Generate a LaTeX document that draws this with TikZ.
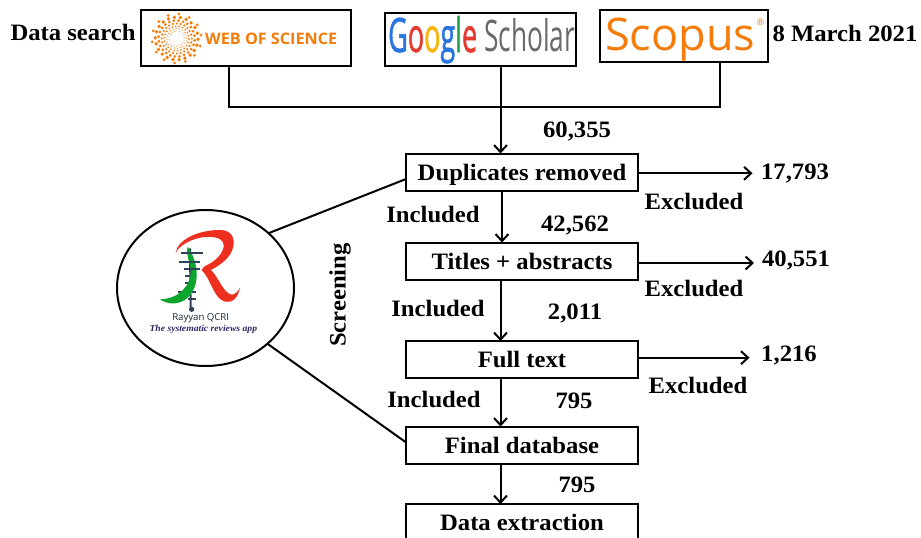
\documentclass[tikz,border=0pt]{standalone}
\usepackage{fontspec}
\usepackage{graphicx}
\usetikzlibrary{arrows.meta,shapes.geometric}
\setmainfont[FakeStretch=1.05]{Liberation Serif}
\newfontfamily\logofont{Open Sans}
\newfontfamily\gfont[FakeBold=1.5]{Open Sans}
\definecolor{wosorange}{HTML}{F57C0A}
\definecolor{gblue}{HTML}{2A75E0}
\definecolor{gred}{HTML}{E53B30}
\definecolor{gyellow}{HTML}{F6B60E}
\definecolor{ggreen}{HTML}{1E9E48}
\definecolor{ggray}{HTML}{6A6A6A}
\definecolor{rred}{HTML}{EE2E1E}
\definecolor{rgreen}{HTML}{0BA52E}
\definecolor{rbone}{HTML}{2F4258}
\definecolor{rnavy}{HTML}{2B2A66}
\tikzset{
  px/.style={x=1pt,y=-1pt},
  boxnode/.style={draw=black,line width=2pt,fill=white,minimum width=232pt,minimum height=37pt,inner sep=0pt,outer sep=0pt,
    font=\fontsize{23.5}{26}\selectfont\bfseries,text height=16pt,text depth=0pt},
  logobox/.style={draw=black,line width=2pt,fill=white,inner sep=0pt,outer sep=0pt},
  lbl/.style={font=\fontsize{23.5}{26}\selectfont\bfseries,text=black,inner sep=0pt,text height=16pt,text depth=0pt},
  wire/.style={draw=black,line width=2pt},
  arr/.style={wire,-{Straight Barb[length=7pt,width=13pt,line width=2pt]}}
}
\begin{document}
\begin{tikzpicture}[px]
\useasboundingbox (0,0) rectangle (921,538);
\clip (0,0) rectangle (921,538);
\fill[white] (0,0) rectangle (921,538);

% logo boxes
\node[logobox,minimum width=210pt,minimum height=56pt] (wos) at (245.5,38) {};
\node[logobox,minimum width=191pt,minimum height=53pt] (goo) at (480.5,39.5) {};
\node[logobox,minimum width=168pt,minimum height=52pt] (sco) at (684,36) {};

% Web of Science logo
\foreach \r/\n/\s in {7.5/18/0.45,9.8/20/0.65,12.2/22/0.95,15/24/1.2,18/24/1.5,21.3/22/1.85,24.6/14/1.5}{
  \foreach \k in {1,...,\n}{
    \fill[wosorange] (176.7,38.5) ++({\k*360/\n+\r*7}:\r) circle (\s);
  }
}
\node[anchor=base west,inner sep=0pt,text=wosorange] (wostxt) at (205,44.5)
  {\resizebox{132pt}{11.5pt}{\logofont\bfseries WEB OF SCIENCE}};

% Google Scholar logo
\node[anchor=base west,inner sep=0pt] (gootxt) at (388,52)
  {\resizebox{89pt}{36pt}{\gfont{\color{gblue}G}{\color{gred}o}{\color{gyellow}o}{\color{gblue}g}{\color{ggreen}l}{\color{gred}e}}};
\node[anchor=base west,inner sep=0pt] (schtxt) at (484,51.5)
  {\resizebox{91pt}{33pt}{\logofont\color{ggray}Scholar}};

% Scopus logo
\node[anchor=base west,inner sep=0pt,text=wosorange] (scotxt) at (605,50)
  {\resizebox{150pt}{32.5pt}{\logofont Scopus}};
\node[inner sep=0pt,text=wosorange,font=\logofont\fontsize{9}{9}\selectfont] (scoreg) at (760.5,22) {®};

% flow boxes
\node[boxnode] (dup) at (522,172) {Duplicates removed};
\node[boxnode] (tit) at (522,261) {Titles + abstracts};
\node[boxnode] (ful) at (522,359.5) {Full text};
\node[boxnode] (fin) at (522,445) {Final database};
\node[boxnode] (ext) at (522,522.5) {Data extraction};

% Rayyan circle
\node[draw=black,line width=2pt,ellipse,minimum width=177pt,minimum height=156pt,inner sep=0pt,outer sep=0pt] (ray) at (205.5,288) {};
\begin{scope}[shift={(110,210)},x=0.3333pt,y=-0.3333pt]
  \draw[rbone,line width=2pt] (240,115) -- (242,298);
  \foreach \y/\a/\b in {130/212/278,155/208/270,178/222/270,198/225/248,218/225/250,245/205/258,268/235/258}{
    \draw[rbone,line width=2pt] (\a,\y) -- (\b,\y);
  }
  \fill[rbone] (245,298) circle (2.6pt);
  \fill[rred] (197,128) .. controls (205,85) and (270,60) .. (330,60)
    .. controls (365,60) and (375,85) .. (370,110)
    .. controls (362,145) and (330,165) .. (303,180)
    .. controls (325,200) and (340,250) .. (365,254)
    .. controls (375,254) and (385,245) .. (390,232)
    .. controls (385,265) and (365,280) .. (345,275)
    .. controls (310,265) and (305,210) .. (275,180)
    .. controls (280,165) and (300,165) .. (315,150)
    .. controls (345,125) and (350,95) .. (325,85)
    .. controls (280,70) and (215,95) .. (197,128) -- cycle;
  \fill[rgreen] (233,110) .. controls (255,140) and (272,195) .. (250,240)
    .. controls (235,275) and (190,295) .. (150,268)
    .. controls (190,268) and (232,245) .. (242,195)
    .. controls (246,165) and (225,135) .. (233,110) -- cycle;
  \foreach \y/\a/\b in {130/212/278,155/208/270,178/222/270}{
    \draw[rbone,line width=2pt] (\a,\y) -- (\b,\y);
  }
  \node[inner sep=0pt,text=rbone!60!black,font=\logofont\fontsize{9.6}{10}\selectfont] (raya) at (272,325) {Rayyan QCRI};
  \node[inner sep=0pt,text=rnavy,font=\fontsize{9.2}{10}\selectfont\bfseries\itshape] (rayb) at (280,358) {The systematic reviews app};
\end{scope}

% connectors
\coordinate (wdrop) at (229,107);
\coordinate (join) at (500.5,107);
\coordinate (sdrop) at (719.5,107);
\draw[wire,line join=miter] (wdrop |- wos.south) -- (wdrop) -- (sdrop) -- (sdrop |- sco.south);
\draw[wire] (join |- goo.south) -- (join);
\draw[arr] (join) -- (join |- dup.north);
\coordinate (x1) at (502,0);
\draw[arr] (x1 |- dup.south) -- (x1 |- tit.north);
\draw[arr] (join |- tit.south) -- (join |- ful.north);
\draw[arr] (join |- ful.south) -- (join |- fin.north);
\draw[arr] (join |- fin.south) -- (join |- ext.north);

\node[lbl] (n1) at (795,171.5) {17,793};
\node[lbl] (n2) at (796,258.7) {40,551};
\node[lbl] (n3) at (789,353.8) {1,216};
\coordinate (e1) at (752.5,173.3);
\coordinate (e2) at (754,263);
\coordinate (e3) at (749.5,357.7);
\draw[arr] (e1 -| dup.east) -- (e1);
\draw[arr] (e2 -| tit.east) -- (e2);
\draw[arr] (e3 -| ful.east) -- (e3);

\coordinate (dupin) at (406,179);
\coordinate (finin) at (405.5,442);
\draw[wire] (ray.41) -- (dupin);
\draw[wire] (ray.-42) -- (finin);

% labels
\node[lbl] (t1) at (73,32.4) {Data search};
\node[lbl] (t2) at (845,33.3) {8 March 2021};
\node[lbl] (t3) at (577,129.5) {60,355};
\node[lbl] (t4) at (694,201) {Excluded};
\node[lbl] (t5) at (433,214.7) {Included};
\node[lbl] (t6) at (575,223) {42,562};
\node[lbl] (t7) at (694,288) {Excluded};
\node[lbl] (t8) at (438,308.7) {Included};
\node[lbl] (t9) at (575,311) {2,011};
\node[lbl] (t10) at (698,385) {Excluded};
\node[lbl] (t11) at (434,399) {Included};
\node[lbl] (t12) at (574,400.5) {795};
\node[lbl] (t13) at (577,484.7) {795};
\node[lbl,rotate=90] (t14) at (337.5,295) {Screening};
\end{tikzpicture}
\end{document}
